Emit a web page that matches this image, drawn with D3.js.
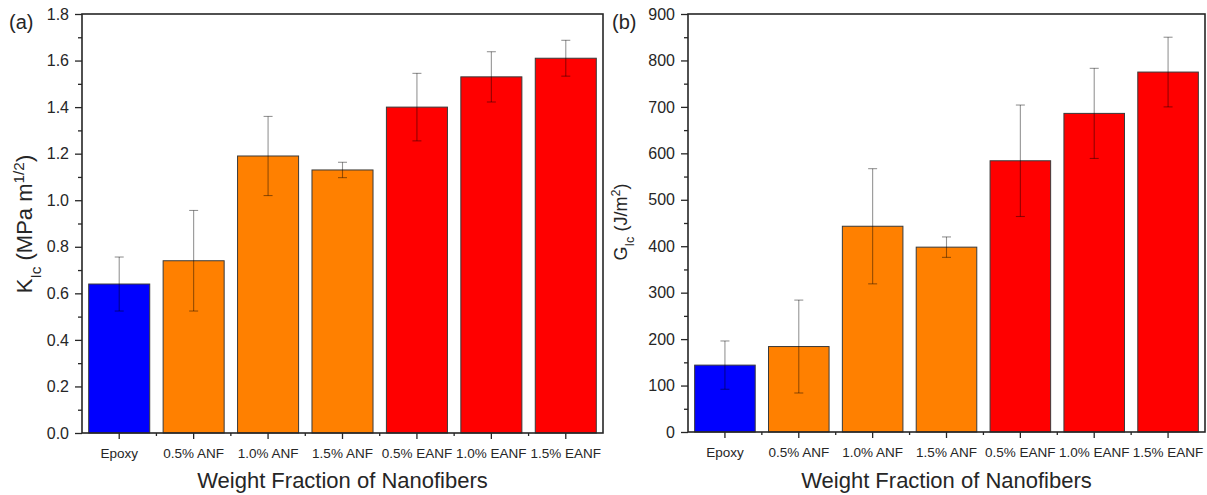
<!DOCTYPE html>
<html>
<head>
<meta charset="utf-8">
<script src="https://cdn.jsdelivr.net/npm/d3@7"></script>
<style>
  html, body { margin: 0; padding: 0; background: #fff; }
  svg { display: block; font-family: Arial, "Liberation Sans", sans-serif; }
</style>
</head>
<body>
<svg id="chart" width="1207" height="495"></svg>
<script>
// Sample groups (shared by both panels)
const categories = ["Epoxy", "0.5% ANF", "1.0% ANF", "1.5% ANF", "0.5% EANF", "1.0% EANF", "1.5% EANF"];
const groupType  = ["neat", "ANF", "ANF", "ANF", "EANF", "EANF", "EANF"];

// Fracture toughness K_Ic (MPa m^1/2), mean and standard deviation
const kicMean = [0.64, 0.74, 1.19, 1.13, 1.40, 1.53, 1.61];
const kicErr  = [0.116, 0.216, 0.17, 0.033, 0.145, 0.108, 0.077];

// Fracture energy G_Ic (J/m^2), mean and standard deviation
const gicMean = [144, 184, 443, 398, 584, 686, 775];
const gicErr  = [52, 100, 124, 22, 120, 97, 75];

// Axis tick values
const kicTicks = [0.0, 0.2, 0.4, 0.6, 0.8, 1.0, 1.2, 1.4, 1.6, 1.8];
const gicTicks = [0, 100, 200, 300, 400, 500, 600, 700, 800, 900];

const fillColor = { neat: "#0000ff", ANF: "#ff8000", EANF: "#ff0000" };
const ink = "#262626";

const svg = d3.select("#chart");

function drawPanel(opt) {
  const W = opt.x1 - opt.x0, H = opt.y1 - opt.y0;
  const g = svg.append("g").attr("transform", `translate(${opt.x0},${opt.y0})`);

  const x = d3.scaleBand().domain(categories).range([0, W]).padding(0);
  const y = d3.scaleLinear().domain(opt.domain).range([H, 0]);
  const barW = x.bandwidth() * 0.82;

  // bars
  g.selectAll("rect.bar").data(categories).join("rect")
    .attr("class", "bar")
    .attr("x", (c) => x(c) + (x.bandwidth() - barW) / 2)
    .attr("y", (c, i) => y(opt.mean[i]))
    .attr("width", barW)
    .attr("height", (c, i) => y(0) - y(opt.mean[i]))
    .attr("fill", (c, i) => fillColor[groupType[i]])
    .attr("stroke", "#3a3a3a")
    .attr("stroke-width", 1);

  // error bars
  const eb = g.append("g").attr("stroke", "#000").attr("stroke-opacity", 0.42).attr("stroke-width", 1.1);
  categories.forEach((c, i) => {
    const cx = x(c) + x.bandwidth() / 2;
    const hi = y(opt.mean[i] + opt.err[i]), lo = y(opt.mean[i] - opt.err[i]);
    eb.append("line").attr("x1", cx).attr("x2", cx).attr("y1", hi).attr("y2", lo);
    eb.append("line").attr("x1", cx - 4.5).attr("x2", cx + 4.5).attr("y1", hi).attr("y2", hi);
    eb.append("line").attr("x1", cx - 4.5).attr("x2", cx + 4.5).attr("y1", lo).attr("y2", lo);
  });

  // y axis: major ticks with labels
  const yAxis = g.append("g")
    .call(d3.axisLeft(y).tickValues(opt.ticks).tickFormat(opt.fmt).tickSize(7).tickPadding(6))
    .call((s) => s.select(".domain").remove());
  yAxis.selectAll("line").attr("stroke", ink).attr("stroke-width", 1.3);
  yAxis.selectAll("text").attr("fill", ink).attr("font-size", opt.tickFont).attr("font-family", "Arial, 'Liberation Sans', sans-serif");

  // y axis: minor ticks
  const minor = d3.range(0, opt.ticks.length - 1).map((k) => (opt.ticks[k] + opt.ticks[k + 1]) / 2);
  g.append("g")
    .call(d3.axisLeft(y).tickValues(minor).tickFormat("").tickSize(4))
    .call((s) => s.select(".domain").remove())
    .selectAll("line").attr("stroke", ink).attr("stroke-width", 1.3);

  // x axis: major ticks at category centres
  const xAxis = g.append("g").attr("transform", `translate(0,${H})`)
    .call(d3.axisBottom(x).tickSize(6).tickPadding(9))
    .call((s) => s.select(".domain").remove());
  xAxis.selectAll("line").attr("stroke", ink).attr("stroke-width", 1.3);
  xAxis.selectAll("text").attr("fill", ink).attr("font-size", 13.5).attr("font-family", "Arial, 'Liberation Sans', sans-serif");

  // x axis: minor ticks at group boundaries
  g.append("g").selectAll("line").data(categories.slice(1)).join("line")
    .attr("x1", (c) => x(c)).attr("x2", (c) => x(c))
    .attr("y1", H).attr("y2", H + 3)
    .attr("stroke", ink).attr("stroke-width", 1.3);

  // frame
  g.append("rect").attr("x", 0).attr("y", 0).attr("width", W).attr("height", H)
    .attr("fill", "none").attr("stroke", ink).attr("stroke-width", 1.6);

  // x title
  svg.append("text")
    .attr("x", opt.x0 + W / 2).attr("y", 488)
    .attr("text-anchor", "middle").attr("font-size", 22).attr("fill", ink)
    .text("Weight Fraction of Nanofibers");

  // panel letter
  svg.append("text").attr("x", opt.letterX).attr("y", 29)
    .attr("font-size", 20).attr("fill", ink).text(opt.letter);

  // y title (rotated) with sub/superscripts
  const t = svg.append("text")
    .attr("transform", `translate(${opt.titleX},${opt.titleY}) rotate(-90)`)
    .attr("text-anchor", "middle").attr("font-size", opt.titleFont).attr("fill", ink);
  opt.titleParts.forEach((p) => {
    const ts = t.append("tspan").text(p.s);
    if (p.sub) ts.attr("font-size", opt.titleFont * 0.7).attr("baseline-shift", "sub");
    if (p.sup) ts.attr("font-size", opt.titleFont * 0.7).attr("baseline-shift", "super");
  });
}

drawPanel({
  x0: 82, x1: 603, y0: 14, y1: 433,
  domain: [0, 1.8], ticks: kicTicks, fmt: d3.format(".1f"),
  mean: kicMean, err: kicErr, tickFont: 16,
  letter: "(a)", letterX: 9,
  titleX: 32, titleY: 224, titleFont: 22,
  titleParts: [{ s: "K" }, { s: "Ic", sub: true }, { s: " (MPa m" }, { s: "1/2", sup: true }, { s: ")" }]
});

drawPanel({
  x0: 688, x1: 1205, y0: 14, y1: 432,
  domain: [0, 900], ticks: gicTicks, fmt: d3.format("d"),
  mean: gicMean, err: gicErr, tickFont: 16,
  letter: "(b)", letterX: 612,
  titleX: 627, titleY: 222, titleFont: 18,
  titleParts: [{ s: "G" }, { s: "Ic", sub: true }, { s: " (J/m" }, { s: "2", sup: true }, { s: ")" }]
});
</script>
</body>
</html>
